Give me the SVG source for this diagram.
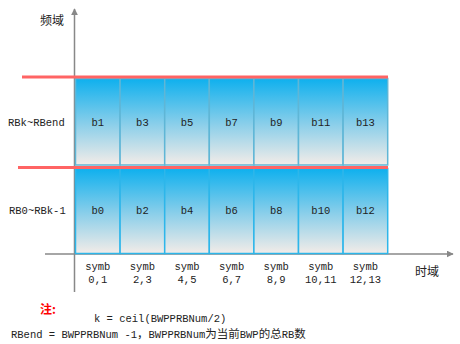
<svg xmlns="http://www.w3.org/2000/svg" width="460" height="344" viewBox="0 0 460 344">
  <defs>
    <linearGradient id="cellGrad" x1="0" y1="0" x2="0" y2="1">
      <stop offset="0" stop-color="#0eb0ee"/>
      <stop offset="0.5" stop-color="#84cdea"/>
      <stop offset="1" stop-color="#f3ece8"/>
    </linearGradient>
    <marker id="arrow" viewBox="0 0 10 10" refX="9" refY="5" markerWidth="7" markerHeight="7" markerUnits="userSpaceOnUse" orient="auto">
      <path d="M0,0 L10,5 L0,10 z" fill="#888888"/>
    </marker>
    <style>
      .cell { fill: url(#cellGrad); stroke: #2db6ea; stroke-width: 1.5; }
      .top .cell { stroke: #5fb6d6; }
      .lbl { font-family: "Liberation Mono", "DejaVu Sans Mono", monospace; font-size: 10.5px; fill: #222222; text-anchor: middle; }
      .side { font-family: "Liberation Mono", "DejaVu Sans Mono", monospace; font-size: 10.5px; fill: #222222; }
      .cjk { font-family: "Noto Sans CJK SC", sans-serif; font-size: 12px; fill: #222222; }
      .cjks { font-family: "Noto Sans CJK SC", sans-serif; font-size: 11.5px; fill: #222222; }
      .axis { stroke: #888888; stroke-width: 1.5; fill: none; }
      .red { stroke: #ff6464; stroke-width: 3; }
    </style>
  </defs>

  <g id="connectors">
    <line class="axis" x1="74.5" y1="292" x2="74.5" y2="9" marker-end="url(#arrow)"/>
    <line class="axis" x1="45" y1="254" x2="453" y2="254" marker-end="url(#arrow)"/>
  </g>

  <g id="top-row" class="top">
    <g id="b1"><rect class="cell" x="75.5" y="78.5" width="44.6" height="86.5"/><text class="lbl" x="97.8" y="126">b1</text></g>
    <g id="b3"><rect class="cell" x="120.1" y="78.5" width="44.6" height="86.5"/><text class="lbl" x="142.4" y="126">b3</text></g>
    <g id="b5"><rect class="cell" x="164.7" y="78.5" width="44.6" height="86.5"/><text class="lbl" x="187" y="126">b5</text></g>
    <g id="b7"><rect class="cell" x="209.3" y="78.5" width="44.6" height="86.5"/><text class="lbl" x="231.6" y="126">b7</text></g>
    <g id="b9"><rect class="cell" x="253.9" y="78.5" width="44.6" height="86.5"/><text class="lbl" x="276.2" y="126">b9</text></g>
    <g id="b11"><rect class="cell" x="298.5" y="78.5" width="44.6" height="86.5"/><text class="lbl" x="320.8" y="126">b11</text></g>
    <g id="b13"><rect class="cell" x="343.1" y="78.5" width="44.6" height="86.5"/><text class="lbl" x="365.4" y="126">b13</text></g>
  </g>

  <g id="bottom-row">
    <g id="b0"><rect class="cell" x="75.5" y="168.5" width="44.6" height="85"/><text class="lbl" x="97.8" y="214">b0</text></g>
    <g id="b2"><rect class="cell" x="120.1" y="168.5" width="44.6" height="85"/><text class="lbl" x="142.4" y="214">b2</text></g>
    <g id="b4"><rect class="cell" x="164.7" y="168.5" width="44.6" height="85"/><text class="lbl" x="187" y="214">b4</text></g>
    <g id="b6"><rect class="cell" x="209.3" y="168.5" width="44.6" height="85"/><text class="lbl" x="231.6" y="214">b6</text></g>
    <g id="b8"><rect class="cell" x="253.9" y="168.5" width="44.6" height="85"/><text class="lbl" x="276.2" y="214">b8</text></g>
    <g id="b10"><rect class="cell" x="298.5" y="168.5" width="44.6" height="85"/><text class="lbl" x="320.8" y="214">b10</text></g>
    <g id="b12"><rect class="cell" x="343.1" y="168.5" width="44.6" height="85"/><text class="lbl" x="365.4" y="214">b12</text></g>
  </g>

  <g id="red-lines">
    <line class="red" x1="22" y1="77" x2="388" y2="77"/>
    <line class="red" x1="18" y1="167.5" x2="388" y2="167.5"/>
  </g>

  <g id="axis-labels">
    <text class="cjk" x="40" y="25">频域</text>
    <text class="cjk" x="415" y="276">时域</text>
    <text class="side" x="8" y="126">RBk~RBend</text>
    <text class="side" x="9" y="214">RB0~RBk-1</text>
  </g>

  <g id="symbols">
    <text class="lbl" x="97.8" y="269.5">symb</text><text class="lbl" x="97.8" y="283">0,1</text>
    <text class="lbl" x="142.4" y="269.5">symb</text><text class="lbl" x="142.4" y="283">2,3</text>
    <text class="lbl" x="187" y="269.5">symb</text><text class="lbl" x="187" y="283">4,5</text>
    <text class="lbl" x="231.6" y="269.5">symb</text><text class="lbl" x="231.6" y="283">6,7</text>
    <text class="lbl" x="276.2" y="269.5">symb</text><text class="lbl" x="276.2" y="283">8,9</text>
    <text class="lbl" x="320.8" y="269.5">symb</text><text class="lbl" x="320.8" y="283">10,11</text>
    <text class="lbl" x="365.4" y="269.5">symb</text><text class="lbl" x="365.4" y="283">12,13</text>
  </g>

  <g id="notes">
    <text x="40" y="314" font-family="Noto Sans CJK SC, sans-serif" font-size="12" font-weight="bold" fill="#ff0000">注:</text>
    <text class="side" x="94" y="322">k = ceil(BWPPRBNum/2)</text>
    <text class="side" x="11" y="338">RBend = BWPPRBNum -1<tspan class="cjks">，</tspan>BWPPRBNum<tspan class="cjks">为当前</tspan>BWP<tspan class="cjks">的总</tspan>RB<tspan class="cjks">数</tspan></text>
  </g>
</svg>
